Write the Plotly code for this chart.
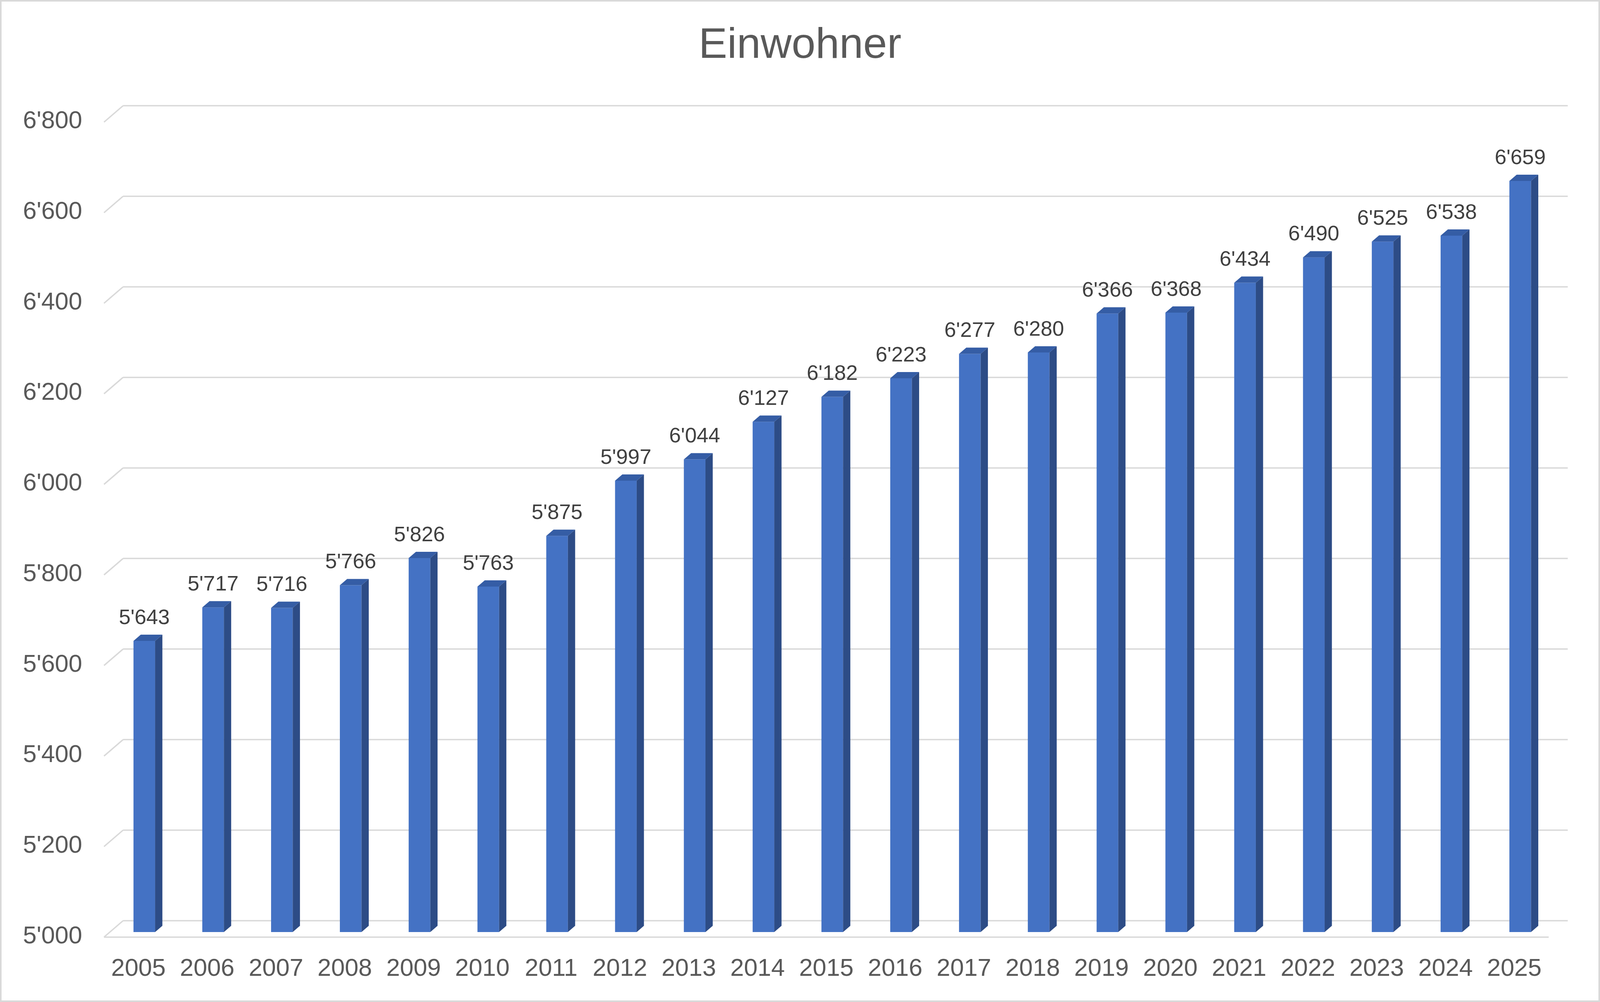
import plotly.graph_objects as go

# Einwohner pro Jahr
years = [str(y) for y in range(2005, 2026)]
einwohner = [5643, 5717, 5716, 5766, 5826, 5763, 5875, 5997, 6044, 6127, 6182,
             6223, 6277, 6280, 6366, 6368, 6434, 6490, 6525, 6538, 6659]

y_ticks = [5000, 5200, 5400, 5600, 5800, 6000, 6200, 6400, 6600, 6800]
y_tick_labels = ["5'000", "5'200", "5'400", "5'600", "5'800",
                 "6'000", "6'200", "6'400", "6'600", "6'800"]

W, H = 4698, 2564
BASE = 5000

# pseudo-3d geometry (pixels), like the excel 3d column chart
px_per_cat = 202.0
px_per_unit = 1.1586
first_bar_px = 423.7     # centre of first bar front face
base_px = 2385.0         # y pixel of value 5000 on the bar front plane
bar_w_px = 63.5
depth_slope = 1.333      # x shift per pixel of depth rise
z_bar = 16               # bar depth
z_wall = 29              # back wall behind bar front
z_floor = -13            # floor front edge in front of bars

FONT = "Liberation Sans, Arial, sans-serif"
TITLE_SIZE = 126
BLUE = "#4472C4"
BLUE_SIDE = "#2D4C86"
BLUE_TOP = "#355DA5"
GRID = "#D9D9D9"


def shift(z):
    return depth_slope * z / px_per_cat, z / px_per_unit


def fmt(v):
    return f"{v:,}".replace(",", "'")


idx = list(range(len(years)))
n = len(years)
hw = bar_w_px / 2 / px_per_cat
sxb, svb = shift(z_bar)
sxw, svw = shift(z_wall)
sxf, svf = shift(z_floor)

# gridlines on back wall + side wall diagonals (as shapes below the bars)
grid_shapes = []
for v in y_ticks:
    grid_shapes.append(dict(type="line", xref="x", yref="y", layer="below",
                            x0=-0.5 + sxf, y0=v + svf, x1=-0.5 + sxw, y1=v + svw,
                            line=dict(color=GRID, width=3.5)))
    grid_shapes.append(dict(type="line", xref="x", yref="y", layer="below",
                            x0=-0.5 + sxw, y0=v + svw, x1=n - 0.5 + sxw, y1=v + svw,
                            line=dict(color=GRID, width=3.5)))
# floor front edge
grid_shapes.append(dict(type="line", xref="x", yref="y", layer="below",
                        x0=-0.5 + sxf, y0=BASE + svf, x1=n - 0.5 + sxf, y1=BASE + svf,
                        line=dict(color=GRID, width=3.5)))

fig = go.Figure()

# side and top faces
sx_, sy_, tx_, ty_ = [], [], [], []
for i, v in zip(idx, einwohner):
    sx_ += [i + hw, i + hw + sxb, i + hw + sxb, i + hw, i + hw, None]
    sy_ += [BASE, BASE + svb, v + svb, v, BASE, None]
    tx_ += [i - hw, i + hw, i + hw + sxb, i - hw + sxb, i - hw, None]
    ty_ += [v, v, v + svb, v + svb, v, None]
fig.add_trace(go.Scatter(x=sx_, y=sy_, mode="lines", fill="toself",
                         fillcolor=BLUE_SIDE, line=dict(width=0, color=BLUE_SIDE),
                         hoverinfo="skip"))
fig.add_trace(go.Scatter(x=tx_, y=ty_, mode="lines", fill="toself",
                         fillcolor=BLUE_TOP, line=dict(width=0, color=BLUE_TOP),
                         hoverinfo="skip"))

# data labels
fig.add_trace(go.Scatter(
    x=idx, y=[v + 49 for v in einwohner], mode="text",
    text=[fmt(v) for v in einwohner], textposition="middle center",
    textfont=dict(family=FONT, size=62, color="#404040"),
    cliponaxis=False, hoverinfo="skip"))

# y tick labels (front plane of floor)
label_x = -0.5 + sxf - 64 / px_per_cat
fig.add_trace(go.Scatter(
    x=[label_x] * len(y_ticks), y=[v + svf for v in y_ticks], mode="text",
    text=y_tick_labels, textposition="middle left",
    textfont=dict(family=FONT, size=72, color="#595959"),
    cliponaxis=False, hoverinfo="skip"))

# category labels
fig.add_trace(go.Scatter(
    x=[i + sxf for i in idx], y=[BASE + svf - 83 / px_per_unit] * n, mode="text",
    text=years, textposition="middle center",
    textfont=dict(family=FONT, size=72, color="#595959"),
    cliponaxis=False, hoverinfo="skip"))

# bar front faces
fig.add_trace(go.Bar(x=idx, y=[v - BASE for v in einwohner], base=BASE,
                     width=2 * hw, marker=dict(color=BLUE, line=dict(width=0)),
                     hoverinfo="skip"))

fig.update_layout(
    width=W, height=H,
    margin=dict(l=0, r=0, t=0, b=0),
    paper_bgcolor="white", plot_bgcolor="white",
    showlegend=False, hovermode=False,
    title=dict(text="Einwohner", x=0.5, xanchor="center",
               y=1 - 110 / H, yanchor="middle", yref="container",
               font=dict(family=FONT, size=TITLE_SIZE, color="#595959")),
    xaxis=dict(visible=False, range=[-first_bar_px / px_per_cat,
                                     (W - first_bar_px) / px_per_cat]),
    yaxis=dict(visible=False, range=[BASE - (H - base_px) / px_per_unit,
                                     BASE + base_px / px_per_unit]),
    shapes=grid_shapes + [
        dict(type="rect", xref="paper", yref="paper", x0=0, y0=0, x1=1, y1=1,
             line=dict(color=GRID, width=8), layer="above")],
)

# if the window is not W x H, stretch the chart to the window and scale the fonts
fit_js = """
var gd = document.getElementById('{plot_id}');
document.documentElement.style.overflow = 'hidden';
document.body.style.margin = '0';
document.body.style.overflow = 'hidden';
var w = window.innerWidth, h = window.innerHeight;
if (Math.abs(w - %d) > 2 || Math.abs(h - %d) > 2) {
    var f = Math.min(w / %d, h / %d);
    gd.style.width = w + 'px';
    gd.style.height = h + 'px';
    var sizes = gd.data.map(function (t) {
        return (t.textfont && t.textfont.size) ? t.textfont.size * f : 12;
    });
    return Plotly.restyle(gd, {'textfont.size': sizes}).then(function () {
        return Plotly.relayout(gd, {width: w, height: h, 'title.font.size': %d * f});
    });
}
""" % (W, H, W, H, TITLE_SIZE)

fig.write_html("out.html", post_script=fit_js, config={"displayModeBar": False})
